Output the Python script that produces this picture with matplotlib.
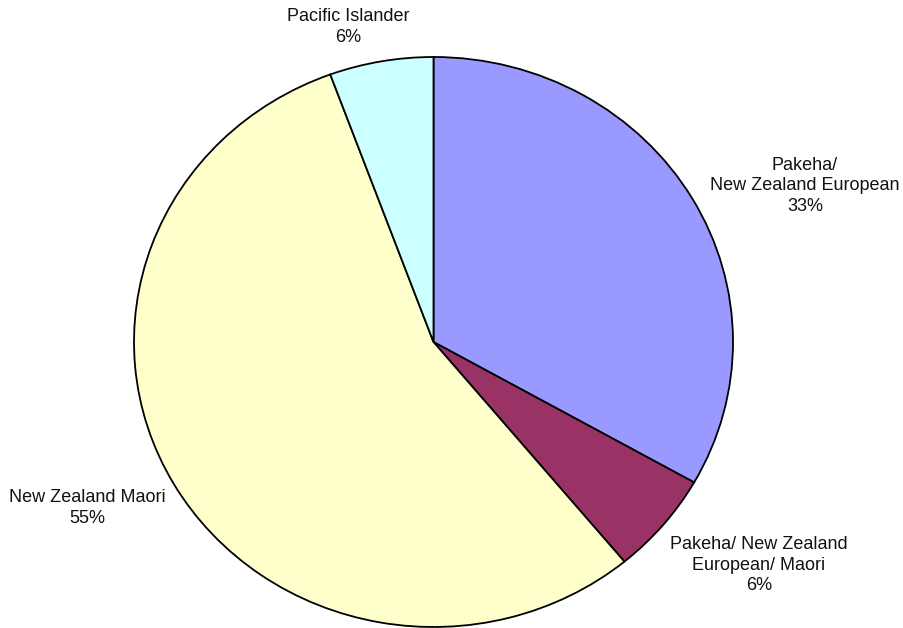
import matplotlib
matplotlib.use("Agg")
import matplotlib.pyplot as plt

plt.rcParams['font.family'] = ['Liberation Sans', 'DejaVu Sans']

# slice data, clockwise from 12 o'clock
categories = ["Pakeha/\nNew Zealand European",
              "Pakeha/ New Zealand\nEuropean/ Maori",
              "New Zealand Maori",
              "Pacific Islander"]
values = [33.2, 5.8, 55.4, 5.6]
colors = ["#9999FF", "#993366", "#FFFFCC", "#CCFFFF"]

# where the labels sit (figure pixels, top-left origin)
label_pos = [(805, 186), (759, 565), (87, 508), (348, 27)]

W, H = 904, 628
fig = plt.figure(figsize=(W / 100, H / 100), dpi=100)

# pie is slightly squashed in the original, so use a non-equal aspect
cx, cy, rx, ry = 433.5, 342, 299.5, 285
ax = fig.add_axes([(cx - rx) / W, 1 - (cy + ry) / H, 2 * rx / W, 2 * ry / H])
ax.pie(values, colors=colors, startangle=90, counterclock=False,
       wedgeprops=dict(edgecolor='black', linewidth=1.3))
ax.set_aspect('auto')
ax.set_xlim(-1, 1)
ax.set_ylim(-1, 1)
ax.axis('off')

total = sum(values)
for cat, v, (x, y) in zip(categories, values, label_pos):
    pct = round(v / total * 100)
    fig.text(x / W, 1 - y / H, f"{cat}\n{pct}%", ha='center', va='center',
             fontsize=13, linespacing=1.3, color='#111111')

fig.savefig("out.png", dpi=100)
